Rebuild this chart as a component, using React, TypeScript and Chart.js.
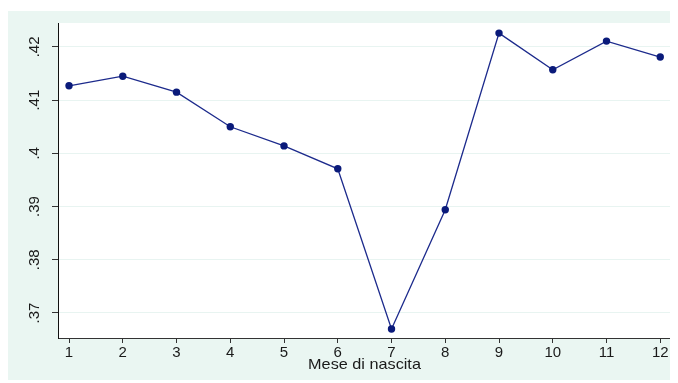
import React, { useEffect, useRef } from "react";
import { Chart, registerables } from "chart.js";

Chart.register(...registerables);

const months = [1, 2, 3, 4, 5, 6, 7, 8, 9, 10, 11, 12];
const shareValues = [0.4127, 0.4145, 0.4115, 0.405, 0.4014, 0.3971, 0.367, 0.3894, 0.4226, 0.4157, 0.4211, 0.4181];
const yTickValues = [0.37, 0.38, 0.39, 0.4, 0.41, 0.42];
const yTickLabels = [".37", ".38", ".39", ".4", ".41", ".42"];
const xTitle = "Mese di nascita";

const FONT = '"Liberation Sans", Arial, Helvetica, sans-serif';
const MINT = "rgb(234,246,242)";
const TEXT = "#1a1a1a";

const plotBgPlugin = {
  id: "plotBg",
  beforeDraw(chart: any) {
    const { ctx, chartArea } = chart;
    ctx.save();
    ctx.fillStyle = "#ffffff";
    ctx.fillRect(chartArea.left, chartArea.top, chartArea.right - chartArea.left, chartArea.bottom - chartArea.top);
    ctx.restore();
  },
};

const labelPlugin = {
  id: "axisLabels",
  afterDraw(chart: any) {
    const ys = chart.scales.y;
    const xs = chart.scales.x;
    const ctx = chart.ctx;
    ctx.save();
    ctx.fillStyle = TEXT;
    // y tick labels, rotated
    ctx.font = `15px ${FONT}`;
    ctx.textAlign = "center";
    ctx.textBaseline = "middle";
    yTickValues.forEach((v, i) => {
      const py = ys.getPixelForValue(v);
      ctx.save();
      ctx.translate(ys.right - 23, py);
      ctx.rotate(-Math.PI / 2);
      ctx.fillText(yTickLabels[i], 0, 0);
      ctx.restore();
    });
    // x tick labels
    ctx.textBaseline = "alphabetic";
    months.forEach((m) => {
      const px = xs.getPixelForValue(m);
      ctx.fillText(String(m), px, xs.top + 18.5);
    });
    // x title
    const cx = (chart.chartArea.left + chart.chartArea.right) / 2;
    ctx.save();
    ctx.translate(cx, xs.top + 30.5);
    ctx.scale(1.12, 1);
    ctx.font = `14.5px ${FONT}`;
    ctx.fillText(xTitle, 0, 0);
    ctx.restore();
    ctx.restore();
  },
};

export default function App() {
  const ref = useRef<HTMLCanvasElement>(null);
  useEffect(() => {
    if (!ref.current) return;
    const chart = new Chart(ref.current, {
      type: "line",
      data: {
        datasets: [
          {
            data: months.map((m, i) => ({ x: m, y: shareValues[i] })),
            borderColor: "#1c2a8c",
            borderWidth: 1.3,
            pointRadius: 3.7,
            pointBackgroundColor: "#0a1a7a",
            pointBorderColor: "#0a1a7a",
            pointBorderWidth: 0,
            tension: 0,
          },
        ],
      },
      options: {
        animation: false,
        responsive: false,
        maintainAspectRatio: false,
        layout: { padding: { left: 0, right: 6, top: 12, bottom: 0 } },
        plugins: { legend: { display: false }, tooltip: { enabled: false } },
        scales: {
          x: {
            type: "linear",
            min: 0.795,
            max: 12.2,
            afterBuildTicks: (s: any) => {
              s.ticks = months.map((m) => ({ value: m }));
            },
            afterFit: (s: any) => {
              s.height = 42;
            },
            border: { display: true, color: "#333", width: 1 },
            grid: { drawOnChartArea: false, drawTicks: true, tickLength: 5, tickColor: "#333" },
            ticks: { display: false },
          },
          y: {
            type: "linear",
            min: 0.3653,
            max: 0.4245,
            afterBuildTicks: (s: any) => {
              s.ticks = yTickValues.map((v) => ({ value: v }));
            },
            afterFit: (s: any) => {
              s.width = 50;
            },
            border: { display: true, color: "#111", width: 1 },
            grid: { color: "rgb(232,244,241)", drawTicks: true, tickLength: 6, tickColor: "#333", lineWidth: 1 },
            ticks: { display: false },
          },
        },
      },
      plugins: [plotBgPlugin, labelPlugin],
    });
    return () => chart.destroy();
  }, []);
  return (
    <div style={{ width: 669, height: 369, marginTop: 3, background: MINT }}>
      <canvas ref={ref} width={669} height={369} style={{ width: 669, height: 369, display: "block" }} />
    </div>
  );
}
